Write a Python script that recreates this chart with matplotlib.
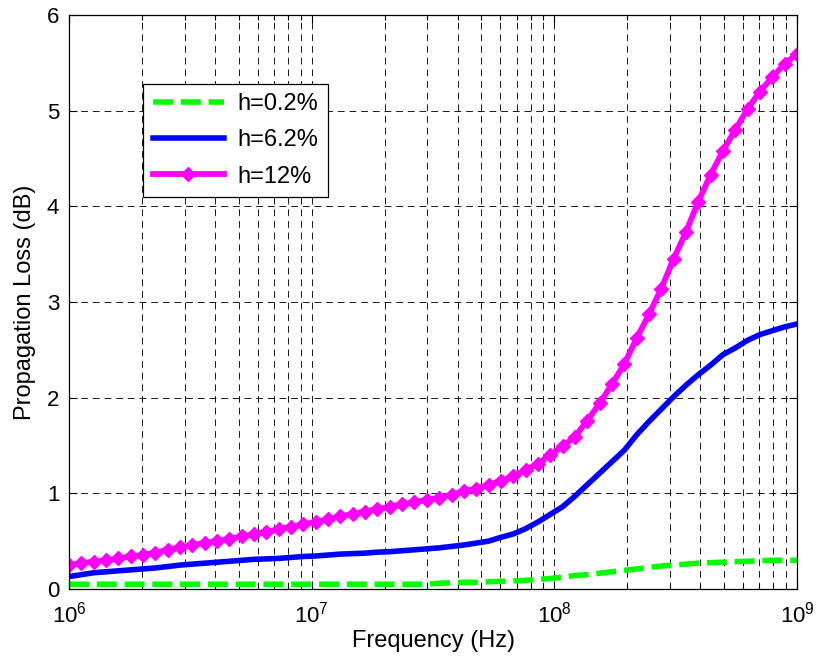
"""
Propagation loss versus frequency for three values of h
"""

import numpy as np
import matplotlib
matplotlib.use("Agg")
import matplotlib.pyplot as plt
from matplotlib.ticker import LogLocator, FixedLocator

plt.rcParams["font.family"] = ["Liberation Sans", "DejaVu Sans"]
plt.rcParams["mathtext.fontset"] = "custom"
plt.rcParams["mathtext.rm"] = "Liberation Sans"

# frequency grid: 60 log-spaced points from 1 MHz to 1 GHz
freq = np.logspace(6, 9, 60)

loss_h02 = [
    0.05, 0.05, 0.05, 0.05, 0.05, 0.05, 0.05, 0.05, 0.05, 0.05,
    0.05, 0.05, 0.05, 0.05, 0.05, 0.05, 0.05, 0.05, 0.05, 0.05,
    0.05, 0.05, 0.05, 0.05, 0.05, 0.05, 0.05, 0.05, 0.05, 0.05,
    0.06, 0.065, 0.07, 0.07, 0.075, 0.08, 0.085, 0.09, 0.10, 0.11,
    0.125, 0.14, 0.15, 0.165, 0.18, 0.195, 0.21, 0.225, 0.24, 0.25,
    0.26, 0.27, 0.275, 0.28, 0.285, 0.29, 0.295, 0.30, 0.30, 0.30,
]

loss_h62 = [
    0.13, 0.15, 0.17, 0.18, 0.19, 0.20, 0.21, 0.22, 0.235, 0.25,
    0.26, 0.27, 0.28, 0.29, 0.30, 0.31, 0.315, 0.32, 0.33, 0.34,
    0.345, 0.355, 0.365, 0.37, 0.375, 0.385, 0.39, 0.40, 0.41, 0.42,
    0.43, 0.445, 0.46, 0.48, 0.50, 0.54, 0.575, 0.63, 0.70, 0.78,
    0.86, 0.97, 1.09, 1.21, 1.33, 1.45, 1.61, 1.75, 1.88, 2.01,
    2.13, 2.24, 2.34, 2.45, 2.52, 2.60, 2.66, 2.70, 2.74, 2.77,
]

loss_h12 = [
    0.25, 0.27, 0.285, 0.30, 0.32, 0.34, 0.355, 0.38, 0.41, 0.435,
    0.46, 0.48, 0.50, 0.525, 0.55, 0.575, 0.60, 0.625, 0.65, 0.675,
    0.70, 0.73, 0.76, 0.785, 0.81, 0.835, 0.86, 0.885, 0.91, 0.93,
    0.955, 0.985, 1.02, 1.05, 1.09, 1.13, 1.18, 1.24, 1.31, 1.40,
    1.49, 1.59, 1.76, 1.94, 2.14, 2.35, 2.62, 2.87, 3.14, 3.45,
    3.73, 4.05, 4.33, 4.58, 4.80, 5.02, 5.20, 5.35, 5.49, 5.59,
]

labels = ["h=0.2%", "h=6.2%", "h=12%"]

fig = plt.figure(figsize=(8.16, 6.64), dpi=100)
ax = fig.add_axes([69 / 816, 75 / 664, 728 / 816, 574 / 664])

ax.plot(freq, loss_h02, color="#00FF00", linewidth=4.0, linestyle=(0, (3.6, 1.4)),
        label=labels[0])
ax.plot(freq, loss_h62, color="#0000FF", linewidth=4.0, label=labels[1])
ax.plot(freq, loss_h12, color="#FF00FF", linewidth=4.2, marker="D", markersize=7.5,
        label=labels[2])

ax.set_xscale("log")
ax.set_xlim(1e6, 1e9)
ax.set_ylim(0, 6)
ax.xaxis.set_major_locator(LogLocator(base=10, numticks=10))
ax.xaxis.set_minor_locator(LogLocator(base=10, subs=np.arange(2, 10), numticks=20))
ax.yaxis.set_major_locator(FixedLocator(range(0, 7)))

grid_kw = dict(color="black", linestyle=(0, (7, 5)), linewidth=0.7, alpha=0.9)
ax.grid(True, which="major", axis="both", **grid_kw)
ax.grid(True, which="minor", axis="x", **grid_kw)
ax.set_axisbelow(True)

ax.tick_params(which="both", direction="in", top=True, right=True, labelsize=16,
               width=0.8)
ax.tick_params(which="major", length=6)
ax.tick_params(which="minor", length=3.5)
ax.tick_params(axis="x", which="major", pad=9)
ax.tick_params(axis="y", which="major", pad=7)
for s in ax.spines.values():
    s.set_linewidth(0.9)

ax.set_xlabel("Frequency (Hz)", fontsize=17, labelpad=2)
ax.set_ylabel("Propagation Loss (dB)", fontsize=17, labelpad=8)

leg = ax.legend(loc="upper left", bbox_to_anchor=(0.102, 0.88), borderaxespad=0,
                fontsize=17, handlelength=3.0, frameon=True, fancybox=False,
                edgecolor="black", framealpha=1, borderpad=0.4, labelspacing=0.6,
                handletextpad=0.6)
leg.get_frame().set_linewidth(0.9)

fig.savefig("out.png", dpi=100)
